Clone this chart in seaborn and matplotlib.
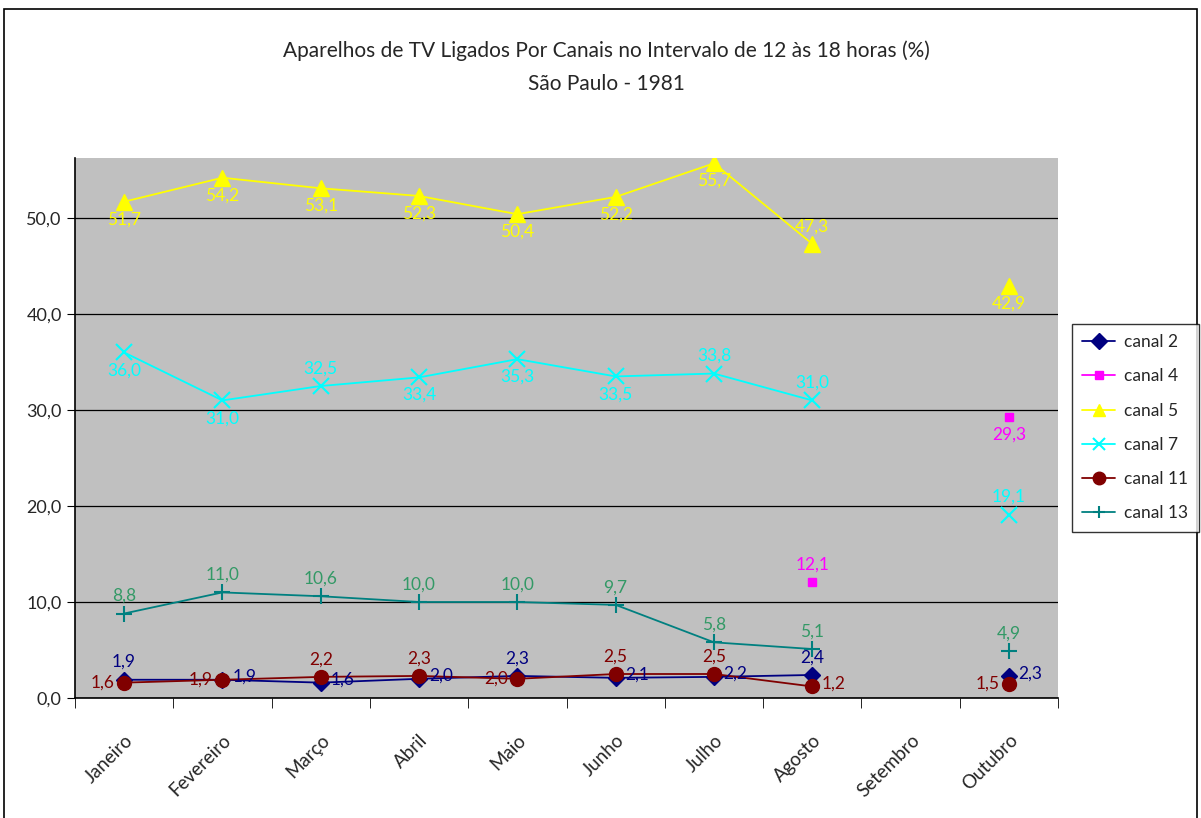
import numpy as np
import pandas as pd
import seaborn as sns
import matplotlib.pyplot as plt
from matplotlib.lines import Line2D
from matplotlib.patches import Rectangle

meses = ["Janeiro", "Fevereiro", "Março", "Abril", "Maio", "Junho",
         "Julho", "Agosto", "Setembro", "Outubro"]

canal_2 = [1.9, 1.9, 1.6, 2.0, 2.3, 2.1, 2.2, 2.4, np.nan, 2.3]
canal_4 = [np.nan, np.nan, np.nan, np.nan, np.nan, np.nan, np.nan, 12.1, np.nan, 29.3]
canal_5 = [51.7, 54.2, 53.1, 52.3, 50.4, 52.2, 55.7, 47.3, np.nan, 42.9]
canal_7 = [36.0, 31.0, 32.5, 33.4, 35.3, 33.5, 33.8, 31.0, np.nan, 19.1]
canal_11 = [1.6, 1.9, 2.2, 2.3, 2.0, 2.5, 2.5, 1.2, np.nan, 1.5]
canal_13 = [8.8, 11.0, 10.6, 10.0, 10.0, 9.7, 5.8, 5.1, np.nan, 4.9]

series = {"canal 2": canal_2, "canal 4": canal_4, "canal 5": canal_5,
          "canal 7": canal_7, "canal 11": canal_11, "canal 13": canal_13}

# style per canal: line colour, label colour, marker, marker size
estilo = {
    "canal 2": ("#000080", "#000080", "D", 8),
    "canal 4": ("#FF00FF", "#FF00FF", "s", 6),
    "canal 5": ("#FFFF00", "#FFFF00", "^", 11),
    "canal 7": ("#00FFFF", "#00FFFF", "x", 11),
    "canal 11": ("#800000", "#800000", "o", 10),
    "canal 13": ("#008080", "#339966", "+", 12),
}

# where each data label sits: a=above, b=below, l=left, r=right
posicao = {
    "canal 2": "a r r r a r r a - r".split(),
    "canal 4": "- - - - - - - a - b".split(),
    "canal 5": "b b b b b b b a - b".split(),
    "canal 7": "b b a b b b a a - a".split(),
    "canal 11": "l l a a l a a r - l".split(),
    "canal 13": "a a a a a a a a - a".split(),
}

sns.set_style("white")
plt.rcParams['font.family'] = ['Lato', 'DejaVu Sans']

fig = plt.figure(figsize=(12.01, 8.18), dpi=100)
ax = fig.add_axes([0.0624, 0.1467, 0.8186, 0.6601])
ax.set_facecolor("#C0C0C0")

df = pd.DataFrame(series)
df["x"] = np.arange(len(meses))

for nome, vals in series.items():
    cor, cor_txt, mk, ms = estilo[nome]
    sub = df[["x", nome]].copy()
    # break the line where values are missing
    sub["seg"] = sub[nome].isna().cumsum()
    sub = sub.dropna()
    for _, g in sub.groupby("seg"):
        sns.lineplot(data=g, x="x", y=nome, ax=ax, color=cor, lw=1.3,
                     marker=mk, markersize=ms, markeredgecolor=cor,
                     markeredgewidth=1.5 if mk in "x+" else 1,
                     estimator=None, sort=False, legend=False, zorder=3)
    for i, v in enumerate(vals):
        if np.isnan(v):
            continue
        p = posicao[nome][i]
        dx, dy, ha, va = {"a": (0, 7, "center", "bottom"),
                          "b": (0, -7, "center", "top"),
                          "l": (-7, 0, "right", "center"),
                          "r": (7, 2, "left", "center")}[p]
        ax.annotate(f"{v:.1f}".replace(".", ","), (i, v), xytext=(dx, dy),
                    textcoords="offset points", ha=ha, va=va,
                    color=cor_txt, fontsize=12.5, zorder=4)

ax.set_xlim(-0.5, len(meses) - 0.5)
ax.set_ylim(0, 56.25)
ax.set_yticks([0, 10, 20, 30, 40, 50])
ax.set_yticklabels(["0,0", "10,0", "20,0", "30,0", "40,0", "50,0"], fontsize=13)
ax.yaxis.grid(True, color="black", lw=0.9)
ax.set_axisbelow(True)
ax.set_xticks(np.arange(len(meses)))
ax.set_xticklabels(meses, rotation=45, ha="right", rotation_mode="anchor", fontsize=13.5)
ax.set_xticks(np.arange(len(meses) + 1) - 0.5, minor=True)
ax.tick_params(axis="x", which="major", length=0, pad=24)
ax.tick_params(axis="x", which="minor", length=7, color="black", direction="out", bottom=True)
ax.tick_params(axis="y", length=6, color="black", direction="out", left=True)
ax.set_xlabel("")
ax.set_ylabel("")
for s in ["top", "right"]:
    ax.spines[s].set_visible(False)
for s in ["left", "bottom"]:
    ax.spines[s].set_color("black")
    ax.spines[s].set_linewidth(1.2)

fig.text(0.505, 0.938, "Aparelhos de TV Ligados Por Canais no Intervalo de 12 às 18 horas (%)",
         ha="center", va="center", fontsize=15)
fig.text(0.505, 0.897, "São Paulo - 1981", ha="center", va="center", fontsize=15)

handles = []
for nome in series:
    cor, _, mk, ms = estilo[nome]
    handles.append(Line2D([0], [0], color=cor, lw=1.3, marker=mk,
                          markersize=min(ms, 9), markeredgecolor=cor,
                          markeredgewidth=1.5 if mk in "x+" else 1))
leg = fig.legend(handles, list(series.keys()), loc="center left",
                 bbox_to_anchor=(0.8926, 0.477), frameon=True, fancybox=False,
                 edgecolor="black", fontsize=12.5, handlelength=1.9,
                 handletextpad=0.5, labelspacing=1.05, borderpad=0.6,
                 borderaxespad=0)
leg.get_frame().set_linewidth(1)

fig.patches.append(Rectangle((0.003, -0.01), 0.994, 0.999, transform=fig.transFigure,
                             fill=False, edgecolor="black", lw=1.2))

fig.savefig("out.png", dpi=100)
